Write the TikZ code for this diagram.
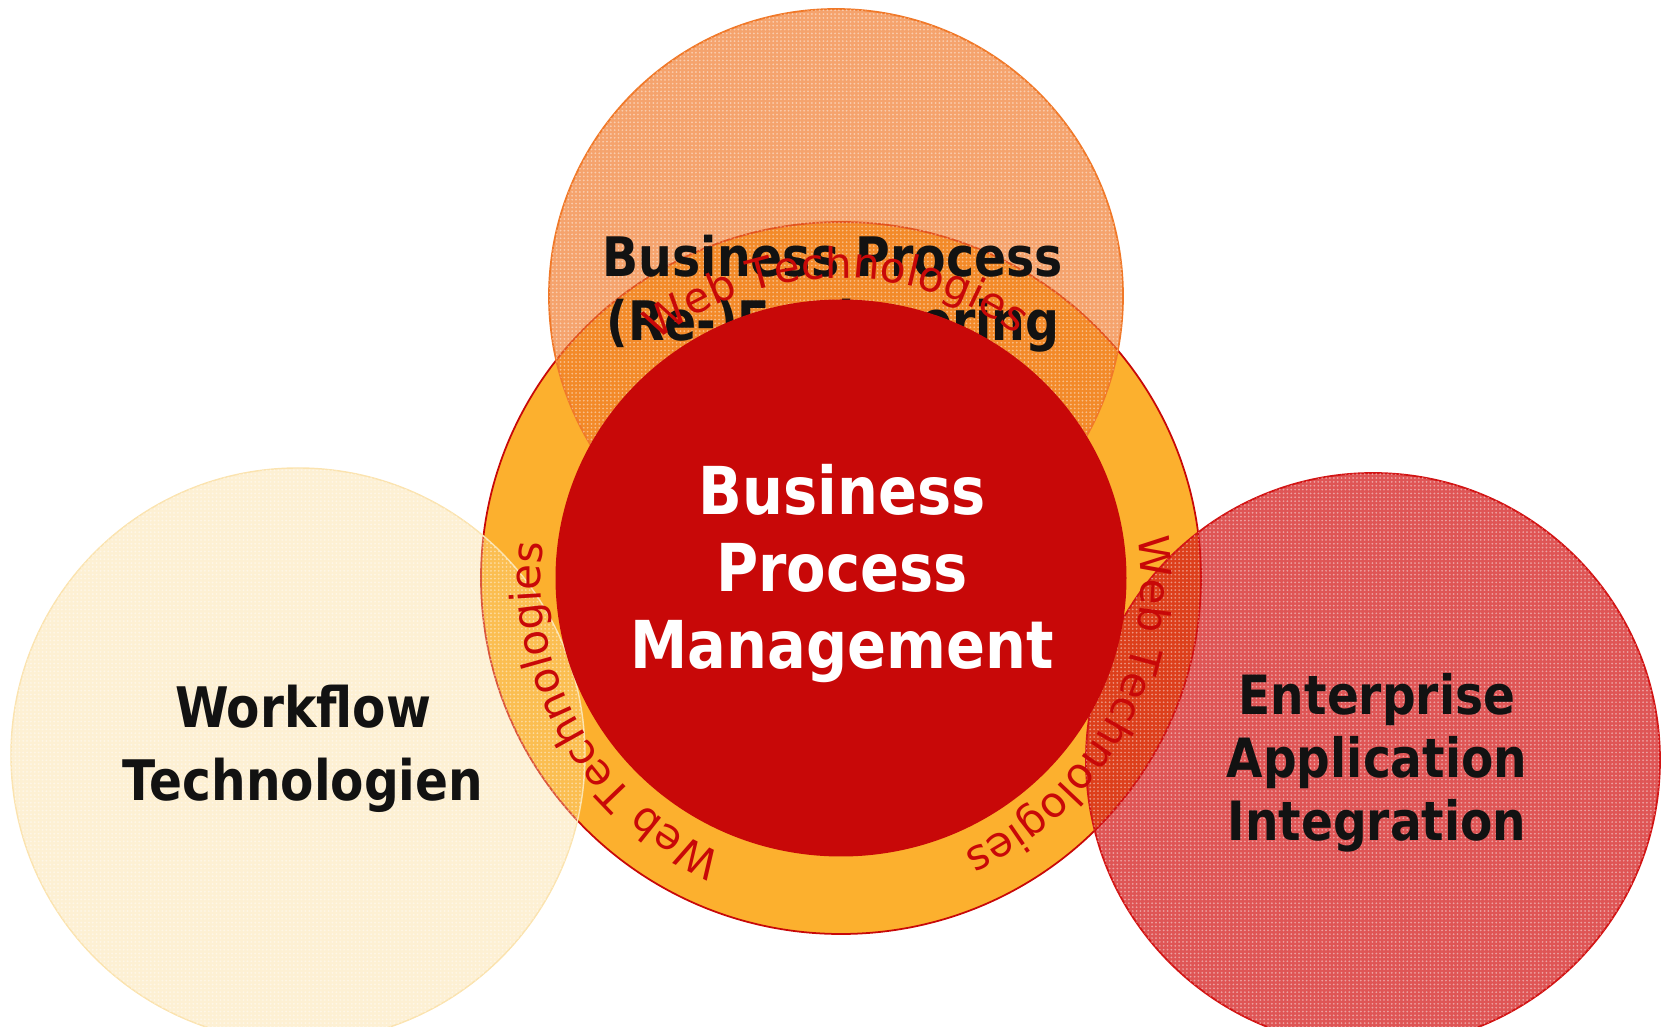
\documentclass[tikz,border=0pt]{standalone}
\usepackage{fontspec}
\setmainfont{DejaVu Sans}
\newfontfamily\lblfont{DejaVu Sans Bold}[FakeStretch=0.87]
\usepackage{xcolor}
\usepackage{tikz}
\usetikzlibrary{positioning,shapes.geometric,decorations.text,patterns.meta}

\definecolor{bpmred}{RGB}{200,8,8}
\definecolor{ringorange}{RGB}{252,176,46}
\definecolor{bprorange}{RGB}{240,120,40}
\definecolor{wfcream}{RGB}{250,215,140}
\definecolor{eaired}{RGB}{210,20,20}
\definecolor{lblblack}{RGB}{18,18,18}

\begin{document}
\begin{tikzpicture}[
    disc/.style={circle, inner sep=0pt, minimum size=5.74cm},
    grain/.style={postaction={pattern={Dots[distance=1.1pt, radius=0.28pt]}, pattern color=white, fill opacity=0.45}},
    lbl/.style={align=center, text=lblblack, font=\lblfont\fontsize{15.5}{18.2}\selectfont},
    webtext/.style={decorate, decoration={text along path, text align=center,
      text={|\fontsize{12}{14}\selectfont\color{bpmred}|Web Technologies}}}
]
  \clip (0,0) rectangle (16.67,10.27);

  % Ring
  \node[ellipse, inner sep=0pt, minimum width=7.20cm, minimum height=7.12cm, fill=ringorange, draw=bpmred, line width=0.5pt] (ring) at (8.41,4.49) {};

  % Outer circles
  \node[disc, grain, fill=wfcream, fill opacity=0.38, draw=wfcream!70, line width=0.4pt] (wf) at (2.98,2.72) {};
  \node[lbl, font=\lblfont\fontsize{15.9}{20.8}\selectfont] (wftext) at (3.03,2.785) {Workflow\\Technologien};

  \node[disc, grain, fill=eaired, fill opacity=0.72, draw=eaired, line width=0.5pt] (eai) at (13.73,2.67) {};
  \node[lbl, font=\lblfont\fontsize{15.4}{17.9}\selectfont] (eaitext) at (13.77,2.64) {Enterprise\\Application\\Integration};

  \node[disc, grain, fill=bprorange, fill opacity=0.68, draw=bprorange, line width=0.5pt] (bpr) at (8.36,7.31) {};
  \node[lbl] (bprtext) at (8.33,7.33) {Business Process\\(Re-)Engineering};

  % Centre
  \node[ellipse, inner sep=0pt, minimum width=5.71cm, minimum height=5.57cm, fill=bpmred] (bpm) at (ring.center) {};
  \node[align=center, text=white, font=\lblfont\fontsize{18.8}{21.8}\selectfont] (bpmtext) at (8.42,4.535) {Business\\Process\\Management};

  % Web Technologies along the ring
  \foreach \ang in {91,210,331}
    \path[webtext] (bpm.center) ++(\ang+55:3.0) arc[start angle=\ang+55, end angle=\ang-55, radius=3.0];
\end{tikzpicture}
\end{document}
